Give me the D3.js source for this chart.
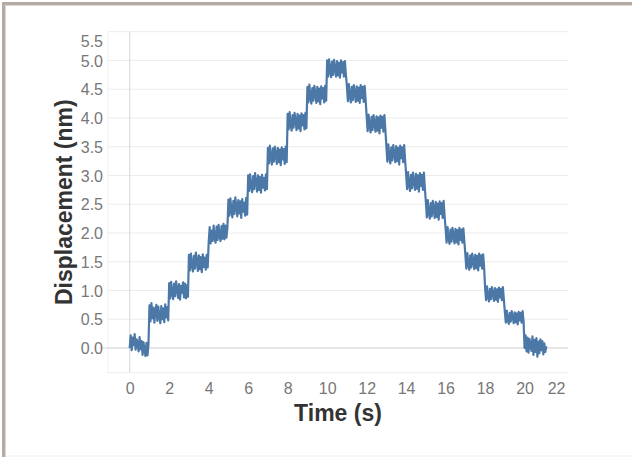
<!DOCTYPE html>
<html>
<head>
<meta charset="utf-8">
<script src="https://cdn.jsdelivr.net/npm/d3@7"></script>
<style>
    body { margin: 0; background: #fff; }
    svg { display: block; font-family: "Liberation Sans", Arial, sans-serif; }
</style>
</head>
<body>
<div id="chart-area"></div>
<script>
// Sampling of the trace (s)
const sampleInterval = 0.05;

// Displacement (nm), one row per dwell
const displacement = [
    0.00, 0.22, -0.04, 0.18, 0.05, 0.24, -0.03, 0.15, 0.08, -0.06, 0.19, -0.02, 0.12, -0.12, 0.10, -0.05, -0.14, 0.09, -0.13, 0.06,
    0.74, 0.46, 0.78, 0.52, 0.70, 0.44, 0.66, 0.75, 0.47, 0.72, 0.55, 0.43, 0.73, 0.50, 0.69, 0.45, 0.76, 0.53, 0.71, 0.48,
    1.13, 0.86, 1.15, 0.95, 0.85, 1.12, 0.90, 1.16, 1.02, 0.87, 1.11, 0.84, 1.08, 0.96, 1.14, 0.88, 1.12, 0.86, 1.09, 0.89,
    1.62, 1.35, 1.64, 1.44, 1.33, 1.60, 1.38, 1.66, 1.50, 1.34, 1.61, 1.37, 1.58, 1.32, 1.63, 1.41, 1.57, 1.36, 1.62, 1.40,
    1.84, 2.10, 1.82, 2.04, 1.86, 2.13, 1.90, 1.83, 2.11, 1.88, 2.14, 1.95, 1.86, 2.12, 1.90, 2.16, 1.89, 2.13, 1.92, 2.10,
    2.58, 2.30, 2.60, 2.39, 2.27, 2.56, 2.33, 2.62, 2.45, 2.29, 2.57, 2.34, 2.55, 2.26, 2.59, 2.37, 2.53, 2.30, 2.61, 2.32,
    3.00, 2.73, 3.02, 2.80, 2.71, 2.99, 2.76, 3.04, 2.88, 2.72, 3.00, 2.75, 2.97, 2.70, 3.01, 2.79, 2.96, 2.74, 3.02, 2.76,
    3.48, 3.21, 3.52, 3.30, 3.19, 3.47, 3.24, 3.50, 3.36, 3.20, 3.48, 3.23, 3.45, 3.18, 3.49, 3.28, 3.46, 3.20, 3.50, 3.23,
    4.07, 3.80, 4.10, 3.88, 3.78, 4.05, 3.83, 4.09, 3.95, 3.79, 4.07, 3.82, 4.04, 3.77, 4.08, 3.87, 4.05, 3.80, 4.09, 3.82,
    4.54, 4.27, 4.58, 4.36, 4.25, 4.52, 4.30, 4.56, 4.42, 4.26, 4.54, 4.29, 4.51, 4.24, 4.55, 4.34, 4.52, 4.27, 4.56, 4.30,
    5.00, 4.72, 5.02, 4.82, 4.71, 4.98, 4.75, 5.01, 4.86, 4.72, 4.99, 4.74, 4.96, 4.70, 5.00, 4.79, 4.97, 4.72, 4.99, 4.75,
    4.56, 4.29, 4.59, 4.37, 4.27, 4.54, 4.31, 4.57, 4.43, 4.28, 4.55, 4.30, 4.53, 4.26, 4.57, 4.35, 4.54, 4.28, 4.56, 4.31,
    4.04, 3.77, 4.06, 3.85, 3.75, 4.02, 3.79, 4.05, 3.91, 3.76, 4.03, 3.78, 4.01, 3.73, 4.04, 3.83, 4.02, 3.76, 4.05, 3.79,
    3.51, 3.24, 3.54, 3.32, 3.21, 3.49, 3.26, 3.53, 3.38, 3.23, 3.51, 3.25, 3.48, 3.19, 3.52, 3.30, 3.49, 3.23, 3.53, 3.26,
    3.03, 2.76, 3.06, 2.84, 2.73, 3.01, 2.78, 3.05, 2.90, 2.75, 3.03, 2.77, 3.00, 2.72, 3.04, 2.82, 3.01, 2.75, 3.05, 2.78,
    2.54, 2.27, 2.57, 2.35, 2.25, 2.52, 2.29, 2.56, 2.41, 2.26, 2.54, 2.28, 2.51, 2.23, 2.55, 2.33, 2.52, 2.26, 2.56, 2.29,
    2.08, 1.83, 2.10, 1.90, 1.81, 2.06, 1.85, 2.09, 1.96, 1.82, 2.07, 1.84, 2.05, 1.80, 2.09, 1.88, 2.06, 1.83, 2.08, 1.85,
    1.63, 1.38, 1.65, 1.45, 1.36, 1.61, 1.40, 1.64, 1.51, 1.37, 1.62, 1.39, 1.60, 1.35, 1.64, 1.43, 1.61, 1.38, 1.63, 1.41,
    1.05, 0.83, 1.07, 0.89, 0.81, 1.03, 0.85, 1.06, 0.94, 0.82, 1.04, 0.84, 1.02, 0.80, 1.05, 0.88, 1.03, 0.83, 1.06, 0.85,
    0.63, 0.44, 0.65, 0.49, 0.42, 0.61, 0.46, 0.64, 0.54, 0.43, 0.62, 0.45, 0.60, 0.41, 0.63, 0.48, 0.61, 0.44, 0.64, 0.46,
    0.00, 0.22, -0.06, 0.18, -0.08, 0.16, 0.04, -0.05, 0.20, -0.12, 0.14, -0.07, 0.17, -0.15, 0.11, -0.09, 0.15, -0.04, 0.12, -0.11, 0.08, -0.07, 0.03,
];

// Axis ticks
const xTicks = [0, 2, 4, 6, 8, 10, 12, 14, 16, 18, 20, 22];
const yTicks = [0.0, 0.5, 1.0, 1.5, 2.0, 2.5, 3.0, 3.5, 4.0, 4.5, 5.0, 5.5];

const width = 632;
const height = 457;
const plot = { left: 108, right: 568, top: 31.7, bottom: 372.7 };

const svg = d3
    .select("#chart-area")
    .append("svg")
    .attr("width", width)
    .attr("height", height);

// Frame
svg.append("rect").attr("x", 2).attr("y", 2).attr("width", 3).attr("height", height - 2).attr("fill", "#b3aba4");
svg.append("rect").attr("x", 2).attr("y", 2).attr("width", width - 2).attr("height", 3).attr("fill", "#b3aba4");
svg.append("rect").attr("x", 5).attr("y", 5).attr("width", 1).attr("height", height - 5).attr("fill", "#ddd8d4");
svg.append("rect").attr("x", 5).attr("y", 5).attr("width", width - 5).attr("height", 1).attr("fill", "#ddd8d4");
svg.append("rect").attr("x", 6).attr("y", height - 1.5).attr("width", width - 6).attr("height", 1).attr("fill", "#eeeeee");

//Scales
const xScale = d3.scaleLinear().domain([-1.1, 22.2]).range([plot.left, plot.right]);
const yScale = d3.scaleLinear().domain([-0.43, 5.5]).range([plot.bottom, plot.top]);

const data = displacement.map((d, i) => ({ t: i * sampleInterval, y: d }));

//Grid
const grid = svg.append("g").attr("class", "grid");
grid.selectAll("line.h")
    .data(yTicks)
    .enter()
    .append("line")
    .attr("class", "h")
    .attr("x1", plot.left)
    .attr("x2", plot.right)
    .attr("y1", (d) => yScale(d))
    .attr("y2", (d) => yScale(d))
    .attr("stroke", "#ececec")
    .attr("stroke-width", 1);
grid.append("line")
    .attr("x1", plot.left).attr("x2", plot.right)
    .attr("y1", plot.bottom).attr("y2", plot.bottom)
    .attr("stroke", "#ececec");
grid.append("line")
    .attr("x1", plot.left).attr("x2", plot.left)
    .attr("y1", plot.top).attr("y2", plot.bottom)
    .attr("stroke", "#f0f0f0");

// Zero rules
grid.append("line")
    .attr("x1", plot.left - 8).attr("x2", plot.right)
    .attr("y1", yScale(0)).attr("y2", yScale(0))
    .attr("stroke", "#d6d6d6");
grid.append("line")
    .attr("x1", xScale(0)).attr("x2", xScale(0))
    .attr("y1", plot.top).attr("y2", plot.bottom)
    .attr("stroke", "#d6d6d6");

//Axes
const xAxisCall = d3.axisBottom(xScale).tickValues(xTicks).tickSize(0).tickPadding(0).tickFormat(d3.format("d"));
const yAxisCall = d3.axisLeft(yScale).tickValues(yTicks).tickSize(0).tickPadding(0).tickFormat(d3.format(".1f"));

const xAxis = svg.append("g")
    .attr("class", "x-axis")
    .attr("transform", `translate(0, ${plot.bottom})`)
    .call(xAxisCall);
xAxis.select(".domain").remove();
xAxis.selectAll("text")
    .attr("y", 21)
    .attr("dy", 0)
    .attr("font-size", "16px")
    .attr("font-family", "Liberation Sans, Arial, sans-serif")
    .attr("fill", "#777")
    .attr("text-anchor", (d) => (d === 22 ? "end" : "middle"))
    .attr("x", (d) => (d === 22 ? plot.right - xScale(22) - 3 : 0));

const yAxis = svg.append("g")
    .attr("class", "y-axis")
    .attr("transform", `translate(${plot.left - 5}, 0)`)
    .call(yAxisCall);
yAxis.select(".domain").remove();
yAxis.selectAll("text")
    .attr("x", 0)
    .attr("dy", (d) => (d === 5.5 ? "0.95em" : "0.35em"))
    .attr("font-size", "16px")
    .attr("font-family", "Liberation Sans, Arial, sans-serif")
    .attr("fill", "#777");

//Line
const line = d3.line().x((d) => xScale(d.t)).y((d) => yScale(d.y));
svg.append("path")
    .datum(data)
    .attr("fill", "none")
    .attr("stroke", "#4c78a8")
    .attr("stroke-width", 2.2)
    .attr("stroke-linejoin", "round")
    .attr("d", line);

//Labels
svg.append("text")
    .attr("class", "x-label")
    .attr("font-size", "23px")
    .attr("font-weight", "bold")
    .attr("fill", "#333")
    .text("Time (s)")
    .attr("x", (plot.left + plot.right) / 2)
    .attr("y", 421)
    .attr("text-anchor", "middle");

svg.append("text")
    .attr("class", "y-label")
    .attr("font-size", "23px")
    .attr("font-weight", "bold")
    .attr("fill", "#333")
    .text("Displacement (nm)")
    .attr("x", -(plot.top + plot.bottom) / 2)
    .attr("y", 72)
    .attr("text-anchor", "middle")
    .attr("transform", "rotate(-90)");
</script>
</body>
</html>
